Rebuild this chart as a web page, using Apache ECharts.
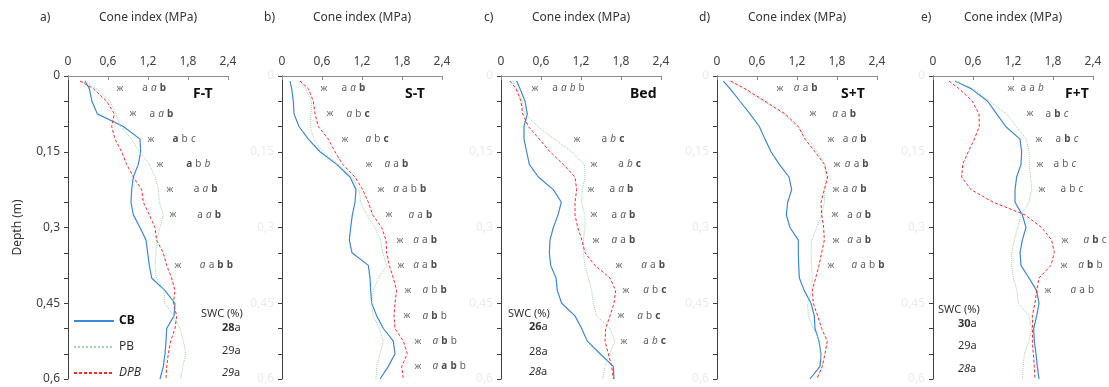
<!DOCTYPE html>
<html>
<head>
<meta charset="utf-8">
<script src="https://cdn.jsdelivr.net/npm/echarts@6/dist/echarts.min.js"></script>
<style>
  html, body { margin: 0; padding: 0; background: #fff; }
  #chart { width: 1109px; height: 387px; }
</style>
</head>
<body>
<div id="chart"></div>
<script>
// depth (m) at which the cone index profiles are read
const depth = [0.01, 0.025, 0.05, 0.075, 0.1, 0.125, 0.15, 0.175, 0.2, 0.225, 0.25, 0.275, 0.3,
  0.325, 0.35, 0.375, 0.4, 0.425, 0.45, 0.475, 0.5, 0.525, 0.55, 0.575, 0.6];

// cone index (MPa) per panel
const cbA = [0.255, 0.32, 0.36, 0.44, 0.83, 1.08, 1.09, 1.055, 0.98, 0.955, 0.945, 0.98, 1.08, 1.17, 1.195, 1.22, 1.255, 1.455, 1.605, 1.59, 1.48, 1.47, 1.455, 1.43, 1.38];
const pbA = [0.21, 0.43, 0.63, 0.72, 0.79, 0.955, 1.07, 1.22, 1.305, 1.355, 1.37, 1.43, 1.38, 1.33, 1.32, 1.305, 1.33, 1.44, 1.455, 1.58, 1.68, 1.73, 1.77, 1.72, 1.69];
const dpbA = [0.18, 0.38, 0.58, 0.695, 0.655, 0.705, 0.805, 0.88, 0.98, 1.105, 1.13, 1.22, 1.305, 1.33, 1.43, 1.48, 1.555, 1.605, 1.58, 1.63, 1.605, 1.54, 1.505, 1.48, 1.47];

const cbB = [0.12, 0.145, 0.17, 0.18, 0.255, 0.395, 0.57, 0.82, 1.02, 1.11, 1.095, 1.055, 1.03, 1.01, 1.05, 1.295, 1.32, 1.33, 1.345, 1.42, 1.52, 1.67, 1.695, 1.595, 1.47];
const pbB = [0.255, 0.36, 0.445, 0.435, 0.42, 0.48, 0.61, 0.845, 1.045, 1.16, 1.18, 1.27, 1.395, 1.48, 1.51, 1.57, 1.445, 1.37, 1.345, 1.37, 1.46, 1.52, 1.47, 1.42, 1.41];
const dpbB = [0.27, 0.395, 0.47, 0.495, 0.545, 0.695, 0.795, 0.91, 1.095, 1.21, 1.295, 1.36, 1.495, 1.56, 1.57, 1.61, 1.67, 1.72, 1.695, 1.68, 1.695, 1.82, 1.88, 1.795, 1.82];

const cbC = [0.235, 0.285, 0.36, 0.395, 0.345, 0.345, 0.385, 0.425, 0.56, 0.785, 0.905, 0.855, 0.785, 0.735, 0.725, 0.745, 0.825, 0.845, 0.91, 1.11, 1.21, 1.295, 1.485, 1.685, 1.695];
const pbC = [0.175, 0.235, 0.31, 0.36, 0.55, 0.8, 1.06, 1.25, 1.26, 1.22, 1.21, 1.26, 1.26, 1.235, 1.235, 1.26, 1.31, 1.36, 1.385, 1.435, 1.635, 1.71, 1.625, 1.56, 1.525];
const dpbC = [0.135, 0.225, 0.3, 0.325, 0.41, 0.575, 0.735, 0.935, 1.11, 1.135, 1.11, 1.11, 1.15, 1.215, 1.26, 1.41, 1.635, 1.72, 1.695, 1.635, 1.57, 1.56, 1.61, 1.66, 1.685];

const cbD = [0.095, 0.195, 0.345, 0.495, 0.635, 0.72, 0.81, 0.935, 1.08, 1.12, 1.06, 1.04, 1.095, 1.22, 1.22, 1.225, 1.235, 1.31, 1.41, 1.46, 1.47, 1.53, 1.56, 1.545, 1.395];
const pbD = [0.18, 0.4, 0.7, 1.0, 1.2, 1.37, 1.5, 1.62, 1.64, 1.62, 1.61, 1.57, 1.495, 1.42, 1.41, 1.42, 1.43, 1.42, 1.36, 1.37, 1.445, 1.545, 1.545, 1.58, 1.51];
const dpbD = [0.205, 0.42, 0.72, 1.02, 1.22, 1.32, 1.47, 1.61, 1.66, 1.61, 1.56, 1.57, 1.6, 1.61, 1.57, 1.53, 1.48, 1.43, 1.445, 1.51, 1.57, 1.655, 1.62, 1.58, 1.495];

const cbE = [0.33, 0.57, 0.82, 0.955, 1.09, 1.305, 1.33, 1.32, 1.255, 1.23, 1.23, 1.34, 1.395, 1.34, 1.305, 1.32, 1.44, 1.555, 1.59, 1.555, 1.51, 1.52, 1.545, 1.565, 1.59];
const pbE = [0.34, 0.6, 0.85, 1.1, 1.25, 1.4, 1.44, 1.445, 1.465, 1.48, 1.44, 1.32, 1.27, 1.22, 1.18, 1.18, 1.205, 1.26, 1.28, 1.44, 1.48, 1.44, 1.37, 1.355, 1.34];
const dpbE = [0.24, 0.39, 0.59, 0.69, 0.695, 0.62, 0.53, 0.445, 0.43, 0.57, 0.905, 1.38, 1.63, 1.78, 1.82, 1.77, 1.59, 1.555, 1.53, 1.49, 1.495, 1.49, 1.505, 1.52, 1.53];

// significance marks: depth, star position, letter position, letters (_ italic, * bold)
const markDepthA = [0.025, 0.075, 0.125, 0.175, 0.225, 0.275, 0.375];
const starXA = [0.78, 0.975, 1.245, 1.38, 1.53, 1.575, 1.65];
const textXA = [1.105, 1.215, 1.56, 1.765, 1.88, 1.93, 1.97];
const lettersA = ['a _a *b', 'a _a *b', '*a b _c', '*a b _b', 'a _a *b', 'a _a *b', '_a a *b *b'];

const markDepthB = [0.025, 0.075, 0.125, 0.175, 0.225, 0.275, 0.325, 0.375, 0.425, 0.475, 0.525, 0.575];
const starXB = [0.63, 0.72, 0.945, 1.305, 1.485, 1.605, 1.77, 1.785, 1.89, 1.875, 2.04, 2.04];
const textXB = [0.885, 0.96, 1.245, 1.53, 1.66, 1.89, 1.96, 1.96, 2.1, 2.1, 2.25, 2.25];
const lettersB = ['a _a *b', '_a b *c', '_a b *c', '_a a *b', '_a a b *b', '_a a *b', '_a a *b', '_a a *b', '_a b *b', '_a *b b', '_a *b b', '_a *a *b b'];

const markDepthC = [0.025, 0.125, 0.175, 0.225, 0.275, 0.325, 0.375, 0.425, 0.475, 0.525];
const starXC = [0.51, 1.14, 1.395, 1.35, 1.395, 1.425, 1.77, 1.875, 1.8, 1.845];
const textXC = [0.76, 1.5, 1.75, 1.62, 1.65, 1.65, 2.095, 2.125, 2.035, 2.125];
const lettersC = ['a _a _b b', 'a _b *c', 'a _b *c', 'a _a *b', 'a _a *b', '_a a *b', '_a a *b', '_a b *c', '_a b *c', 'a _b *c'];

const markDepthD = [0.025, 0.075, 0.125, 0.175, 0.225, 0.275, 0.325, 0.375];
const starXD = [0.945, 1.44, 1.71, 1.8, 1.785, 1.77, 1.785, 1.71];
const textXD = [1.145, 1.72, 1.88, 1.91, 1.88, 1.945, 1.945, 2.01];
const lettersD = ['_a a *b', '_a a *b', 'a _a *b', '_a a *b', 'a _a *b', 'a _a *b', '_a a *b', '_a a b *b'];

const markDepthE = [0.025, 0.075, 0.125, 0.175, 0.225, 0.325, 0.375, 0.425];
const starXE = [1.17, 1.455, 1.59, 1.605, 1.635, 1.98, 1.965, 1.725];
const textXE = [1.305, 1.68, 1.83, 1.8, 1.905, 2.25, 2.17, 2.055];
const lettersE = ['a a _b', 'a *b _c', 'a *b _c', 'a b _c', 'a b _c', '_a *b c', '_a *b b', '_a a b'];

// panel labels and soil water content
const panelTags = ['a)', 'b)', 'c)', 'd)', 'e)'];
const panelNames = ['F-T', 'S-T', 'Bed', 'S+T', 'F+T'];
const swcA = ['*28a', '29a', '_29a'];
const swcC = ['*26a', '28a', '_28a'];
const swcE = ['*30a', '29a', '_28a'];

const panels = [
  { cb: cbA, pb: pbA, dpb: dpbA, md: markDepthA, sx: starXA, tx: textXA, lt: lettersA },
  { cb: cbB, pb: pbB, dpb: dpbB, md: markDepthB, sx: starXB, tx: textXB, lt: lettersB },
  { cb: cbC, pb: pbC, dpb: dpbC, md: markDepthC, sx: starXC, tx: textXC, lt: lettersC },
  { cb: cbD, pb: pbD, dpb: dpbD, md: markDepthD, sx: starXD, tx: textXD, lt: lettersD },
  { cb: cbE, pb: pbE, dpb: dpbE, md: markDepthE, sx: starXE, tx: textXE, lt: lettersE }
];

const FONT = '"Noto Sans", "Open Sans", sans-serif';
const lefts = [68, 282, 501, 717, 933];
const tagLefts = [40, 264, 484, 699, 921];
const nameLefts = [193, 405, 630, 841, 1065];

const chart = echarts.init(document.getElementById('chart'));

function letterRich(s) {
  return s.split(' ').map(t => {
    if (t[0] === '_') return '{i|' + t.slice(1) + '}';
    if (t[0] === '*') return '{b|' + t.slice(1) + '}';
    return '{n|' + t + '}';
  }).join(' ');
}
function swcRich(s) {
  if (s[0] === '*') return '{b|' + s.slice(1, -1) + '}{n|' + s.slice(-1) + '}';
  if (s[0] === '_') return '{i|' + s.slice(1, -1) + '}{n|' + s.slice(-1) + '}';
  return '{n|' + s + '}';
}
const richStyles = {
  n: { fontSize: 10, color: '#333', fontFamily: FONT },
  i: { fontSize: 10, color: '#333', fontStyle: 'italic', fontFamily: FONT },
  b: { fontSize: 10, color: '#222', fontWeight: 'bold', fontFamily: FONT }
};
const swcStyles = {
  n: { fontSize: 11, color: '#333', fontFamily: FONT },
  i: { fontSize: 11, color: '#333', fontStyle: 'italic', fontFamily: FONT },
  b: { fontSize: 11, color: '#222', fontWeight: 'bold', fontFamily: FONT }
};

const grid = [], xAxis = [], yAxis = [], series = [];
panels.forEach((p, k) => {
  grid.push({ left: lefts[k], top: 76, width: 160, height: 303 });
  xAxis.push({
    type: 'value', gridIndex: k, position: 'top', min: 0, max: 2.4, interval: 0.6,
    name: 'Cone index (MPa)', nameLocation: 'middle', nameGap: 52,
    nameTextStyle: { fontSize: 12, color: '#333', fontFamily: FONT },
    axisLine: { lineStyle: { color: '#8c8c8c' } },
    axisTick: { inside: true, length: 4, lineStyle: { color: '#8c8c8c' } },
    axisLabel: {
      fontSize: 12, color: '#404040', fontFamily: FONT, margin: 8,
      formatter: v => String(Math.round(v * 10) / 10).replace('.', ',')
    },
    splitLine: { show: false }
  });
  yAxis.push({
    type: 'value', gridIndex: k, inverse: true, min: 0, max: 0.6, interval: 0.05,
    name: k === 0 ? 'Depth (m)' : '', nameLocation: 'middle', nameGap: 44,
    nameTextStyle: { fontSize: 12, color: '#333', fontFamily: FONT },
    axisLine: { lineStyle: { color: '#404040' } },
    axisTick: { length: 4, lineStyle: { color: '#404040' } },
    axisLabel: {
      fontSize: 12, color: k === 0 ? '#404040' : '#ececec', fontFamily: FONT, margin: 8,
      formatter: v => {
        const r = v / 0.15;
        if (Math.abs(r - Math.round(r)) > 1e-6) return '';
        return String(Math.round(v * 100) / 100).replace('.', ',');
      }
    },
    splitLine: { show: false }
  });
  const line = (name, vals, style) => ({
    name, type: 'line', xAxisIndex: k, yAxisIndex: k, symbol: 'none', silent: true,
    data: vals.map((v, i) => [v, depth[i]]),
    lineStyle: style, itemStyle: { color: style.color }
  });
  series.push(line('CB', p.cb, { color: '#3f86d0', width: 1.2, type: 'solid' }));
  series.push(line('PB', p.pb, { color: '#9ed6ad', width: 1, type: 'dotted' }));
  series.push(line('DPB', p.dpb, { color: '#ff2a2a', width: 1, type: [3, 2] }));
  series.push({
    type: 'scatter', xAxisIndex: k, yAxisIndex: k, symbolSize: 1, silent: true,
    itemStyle: { color: 'rgba(0,0,0,0)' },
    data: p.md.map((d, i) => [p.sx[i], d]),
    label: { show: true, position: 'inside', formatter: 'ж', fontSize: 9, color: '#333', fontFamily: FONT }
  });
  series.push({
    type: 'scatter', xAxisIndex: k, yAxisIndex: k, symbolSize: 1, silent: true,
    itemStyle: { color: 'rgba(0,0,0,0)' },
    data: p.md.map((d, i) => [p.tx[i], d, p.lt[i]]),
    label: {
      show: true, position: 'right', distance: 0,
      formatter: prm => letterRich(prm.data[2]), rich: richStyles
    }
  });
});

const title = [];
panelTags.forEach((t, k) => {
  title.push({ text: t, left: tagLefts[k], top: 12, padding: 0,
    textStyle: { fontSize: 12, fontWeight: 'normal', color: '#333', fontFamily: FONT } });
  title.push({ text: panelNames[k], left: nameLefts[k], top: 87, padding: 0,
    textStyle: { fontSize: 14, fontWeight: 'bold', color: '#111', fontFamily: FONT } });
});

function swcBlock(x0, x1, ys, vals) {
  const els = [{
    type: 'text', left: x0, top: ys[0] - 7,
    style: { text: 'SWC (%)', fontSize: 11, fill: '#333', fontFamily: FONT }
  }];
  vals.forEach((v, i) => {
    els.push({
      type: 'text', left: x1, top: ys[i + 1] - 7,
      style: { text: swcRich(v), rich: swcStyles, fill: '#333' }
    });
  });
  return els;
}

chart.setOption({
  animation: false,
  backgroundColor: '#fff',
  textStyle: { fontFamily: FONT },
  title,
  grid, xAxis, yAxis, series,
  legend: {
    data: ['CB', 'PB', 'DPB'], orient: 'vertical', left: 73, top: 315,
    itemStyle: { opacity: 0 },
    itemWidth: 40, itemHeight: 10, itemGap: 14, padding: 0,
    selectedMode: false,
    formatter: n => n === 'CB' ? '{b|CB}' : (n === 'DPB' ? '{i|DPB}' : '{n|PB}'),
    textStyle: {
      rich: {
        n: { fontSize: 12, color: '#333', fontFamily: FONT },
        i: { fontSize: 12, color: '#333', fontStyle: 'italic', fontFamily: FONT },
        b: { fontSize: 12, color: '#111', fontWeight: 'bold', fontFamily: FONT }
      }
    }
  },
  graphic: [].concat(
    swcBlock(201, 222, [315, 329, 352, 374], swcA),
    swcBlock(508, 529, [315, 328, 353, 373], swcC),
    swcBlock(938, 958, [311, 325, 347, 370], swcE)
  )
});
</script>
</body>
</html>
